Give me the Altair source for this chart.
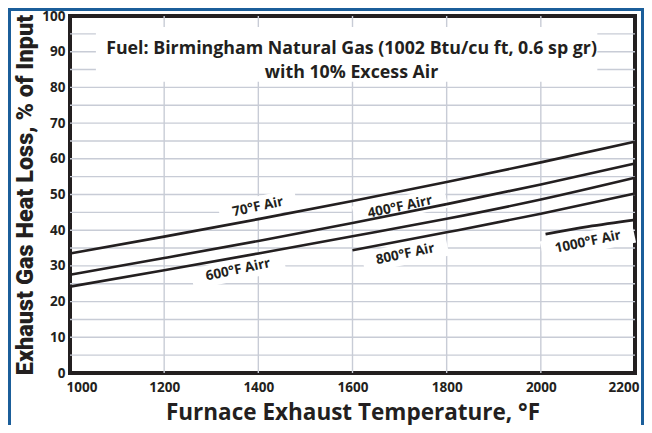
import altair as alt
import pandas as pd

# ---- data ----
temps_main = [1000, 1200, 1400, 1600, 1800, 2000, 2200]
loss_70 = [33.5, 38.2, 43.1, 48.2, 53.5, 59.0, 64.8]
loss_400 = [27.5, 32.2, 37.0, 42.0, 47.3, 52.8, 58.7]
loss_600 = [24.2, 28.8, 33.5, 38.3, 43.2, 48.6, 54.7]
temps_800 = [1600, 1800, 2000, 2200]
loss_800 = [34.4, 39.4, 44.6, 50.3]
temps_1000 = [2010, 2100, 2200]
loss_1000 = [38.9, 41.0, 42.9]

label_text = ["70°F Air", "400°F Airr", "600°F Airr", "800°F Air", "1000°F Air"]
label_temp = [1399, 1701, 1357, 1712, 2100]
label_loss = [46.5, 46.5, 28.9, 33.3, 36.7]

title_lines = ["Fuel: Birmingham Natural Gas (1002 Btu/cu ft, 0.6 sp gr)",
               "with 10% Excess Air"]
x_ticks = [1000, 1200, 1400, 1600, 1800, 2000, 2200]
y_ticks = list(range(0, 101, 10))
y_grid = list(range(5, 100, 5))
x_grid = [1200, 1400, 1600, 1800, 2000]

# ---- tables ----
rows = []
for name, ts, vs in [("70", temps_main, loss_70), ("400", temps_main, loss_400),
                     ("600", temps_main, loss_600), ("800", temps_800, loss_800),
                     ("1000", temps_1000, loss_1000)]:
    for t, v in zip(ts, vs):
        rows.append({"series": name, "temp": t, "loss": v})
curves = pd.DataFrame(rows)

def box_path(text):
    w = len(text) * 8.0 + 14
    h = 21.0 / w
    return f"M-1,-{h:.4f}L1,-{h:.4f}L1,{h:.4f}L-1,{h:.4f}Z", w * w

paths, sizes = zip(*[box_path(t) for t in label_text])
labels = pd.DataFrame({"text": label_text, "temp": label_temp, "loss": label_loss,
                       "path": list(paths), "size": list(sizes)})

INK = "#231f20"
GRID = "#c8ccd6"
FONT = "Open Sans"
xs = alt.Scale(domain=[1000, 2200], nice=False, zero=False)
ys = alt.Scale(domain=[0, 100], nice=False)

x_axis = alt.Axis(values=x_ticks, format="d", grid=False, domain=False, ticks=False,
                  labelFlush=True, labelFlushOffset=4,
                  labelFontSize=13.5, labelFont=FONT, labelFontWeight="bold",
                  labelColor=INK, labelPadding=7,
                  title="Furnace Exhaust Temperature, °F", titleFont=FONT,
                  titleFontSize=22.5, titleFontWeight="bold", titleColor=INK,
                  titleX=282.5, titleY=46, titleBaseline="alphabetic", titleAlign="center")
y_axis = alt.Axis(values=y_ticks, grid=False, domain=False, ticks=False,
                  labelOverlap=False, labelFlush=False,
                  labelFontSize=13.5, labelFont=FONT, labelFontWeight="bold",
                  labelColor=INK, labelPadding=5,
                  title="Exhaust Gas Heat Loss, % of Input",
                  titleFont="Liberation Sans Narrow, Roboto", titleFontSize=23.5,
                  titleFontWeight=900, titleColor=INK, titleAngle=270,
                  titleX=-45, titleY=178.5, titleBaseline="middle", titleAlign="center")

X = lambda f: alt.X(f, scale=xs, axis=x_axis)
Y = lambda f: alt.Y(f, scale=ys, axis=y_axis)

one = pd.DataFrame({"a": [0]})

hgrid = alt.Chart(pd.DataFrame({"loss": y_grid})).mark_rule(
    color=GRID, strokeWidth=1.4).encode(y=Y("loss:Q"))
vgrid = alt.Chart(pd.DataFrame({"temp": x_grid})).mark_rule(
    color=GRID, strokeWidth=1.4).encode(x=X("temp:Q"))

border = alt.Chart(one).mark_rect(fill=None, stroke="#1b5e9a", strokeWidth=3).encode(
    x=alt.value(-60.5), x2=alt.value(572.5), y=alt.value(-6.5), y2=alt.value(430))

title_box = alt.Chart(pd.DataFrame({"x1": [1055], "x2": [2120], "y1": [96.9], "y2": [81.6]})
                      ).mark_rect(fill="white").encode(
    x=X("x1:Q"), x2="x2:Q", y=Y("y1:Q"), y2="y2:Q")

title_df = pd.DataFrame({"t": title_lines, "temp": [1598, 1598], "loss": [90.7, 84.0]})
title_text = alt.Chart(title_df).mark_text(font=FONT, fontWeight="bold", fontSize=17.8,
                                           color=INK, baseline="middle").encode(
    x=X("temp:Q"), y=Y("loss:Q"), text="t:N")

boxes = alt.Chart(labels).mark_point(filled=True, fill="white", opacity=1,
                                     strokeWidth=0, angle=348).encode(
    x=X("temp:Q"), y=Y("loss:Q"),
    shape=alt.Shape("path:N", scale=None), size=alt.Size("size:Q", scale=None))

lines = alt.Chart(curves).mark_line(color=INK, strokeWidth=2.6, interpolate="monotone").encode(
    x=X("temp:Q"), y=Y("loss:Q"), detail="series:N")

texts = alt.Chart(labels).mark_text(font=FONT, fontWeight="bold", fontSize=13.5,
                                    color=INK, angle=348, baseline="middle").encode(
    x=X("temp:Q"), y=Y("loss:Q"), text="text:N")

chart = alt.layer(hgrid, vgrid, title_box, title_text, boxes, lines, texts, border).properties(
    width=565, height=357,
    autosize=alt.AutoSizeParams(type="none"),
    padding={"left": 62, "top": 8, "right": 9, "bottom": 52},
    background="white",
).configure_view(stroke=INK, strokeWidth=4)

chart.save("out.html", embed_options={"renderer": "svg", "actions": False})
